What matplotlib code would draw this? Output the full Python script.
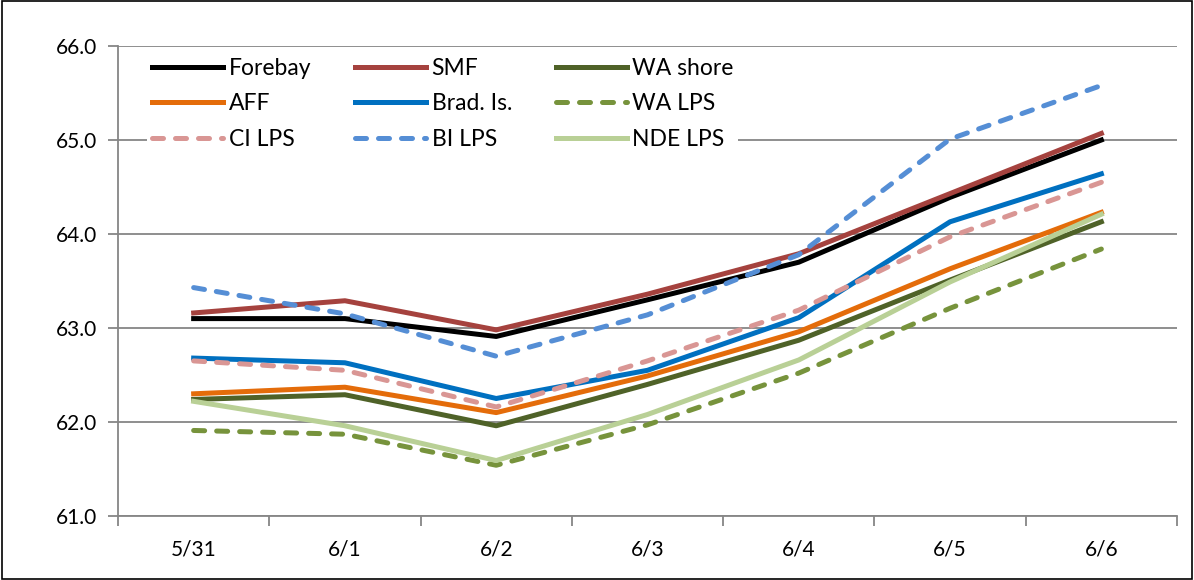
import matplotlib
matplotlib.use('agg')
import matplotlib.pyplot as plt
from matplotlib.patches import Rectangle

plt.rcParams['font.family'] = ['Lato', 'DejaVu Sans']

days = ['5/31', '6/1', '6/2', '6/3', '6/4', '6/5', '6/6']

forebay = [63.10, 63.10, 62.91, 63.30, 63.70, 64.39, 65.00]
smf = [63.16, 63.29, 62.98, 63.36, 63.79, 64.43, 65.07]
wa_shore = [62.24, 62.29, 61.96, 62.40, 62.87, 63.51, 64.13]
aff = [62.30, 62.37, 62.10, 62.49, 62.96, 63.63, 64.23]
brad = [62.68, 62.63, 62.25, 62.55, 63.11, 64.13, 64.64]
wa_lps = [61.91, 61.87, 61.54, 61.97, 62.52, 63.21, 63.84]
ci_lps = [62.65, 62.55, 62.16, 62.65, 63.19, 63.97, 64.55]
bi_lps = [63.43, 63.15, 62.70, 63.14, 63.78, 65.01, 65.58]
nde_lps = [62.22, 61.96, 61.59, 62.08, 62.66, 63.49, 64.21]

fig = plt.figure(figsize=(11.94, 5.80), dpi=100)
ax = fig.add_axes([118/1194, 1 - 516/580, (1177-118)/1194, (516-46)/580])

x = range(len(days))
lw = 3.6
dash = dict(linestyle=(0, (2.2, 2.4)), dash_capstyle='round')

h = {}
h['Forebay'], = ax.plot(x, forebay, color='#000000', lw=lw)
h['SMF'], = ax.plot(x, smf, color='#A5423E', lw=lw)
h['WA shore'], = ax.plot(x, wa_shore, color='#4F6228', lw=lw)
h['AFF'], = ax.plot(x, aff, color='#E46C0A', lw=lw)
h['Brad. Is.'], = ax.plot(x, brad, color='#0070C0', lw=lw)
h['WA LPS'], = ax.plot(x, wa_lps, color='#77933C', lw=lw, **dash)
h['CI LPS'], = ax.plot(x, ci_lps, color='#D99694', lw=lw, **dash)
h['BI LPS'], = ax.plot(x, bi_lps, color='#558ED5', lw=lw, **dash)
h['NDE LPS'], = ax.plot(x, nde_lps, color='#B9D096', lw=lw)

ax.set_xlim(-0.5, len(days) - 0.5)
ax.set_ylim(61, 66)
ax.set_yticks([61, 62, 63, 64, 65, 66])
ax.set_yticklabels(['%.1f' % v for v in [61, 62, 63, 64, 65, 66]])
ax.set_xticks(list(x))
ax.set_xticklabels(days)
ax.set_xticks([i - 0.5 for i in range(len(days) + 1)], minor=True)
ax.tick_params(axis='x', which='major', length=0, pad=17, labelsize=15)
ax.tick_params(axis='x', which='minor', length=7, color='#868686', width=1.3)
ax.tick_params(axis='y', length=7, color='#868686', width=1.3, pad=8, labelsize=15)
ax.grid(axis='y', color='#868686', lw=1.3)
ax.set_axisbelow(True)
for s in ['top', 'right']:
    ax.spines[s].set_visible(False)
for s in ['left', 'bottom']:
    ax.spines[s].set_color('#868686')
    ax.spines[s].set_linewidth(1.3)

order = ['Forebay', 'AFF', 'CI LPS', 'SMF', 'Brad. Is.', 'BI LPS', 'WA shore', 'WA LPS', 'NDE LPS']
leg = ax.legend([h[k] for k in order], order, ncol=3, loc='upper left',
                bbox_to_anchor=(0.017, 1.008), frameon=True, fontsize=16.5,
                handlelength=3.1, handletextpad=0.25, columnspacing=1.9,
                labelspacing=0.62, borderpad=0.2)
leg.get_frame().set_edgecolor('none')
leg.get_frame().set_facecolor('white')
leg.get_frame().set_alpha(1)

fig.patches.append(Rectangle((0.002, 0.002), 0.996, 0.996, transform=fig.transFigure,
                             fill=False, edgecolor='black', lw=1.2))

fig.savefig('out.png', dpi=100)
